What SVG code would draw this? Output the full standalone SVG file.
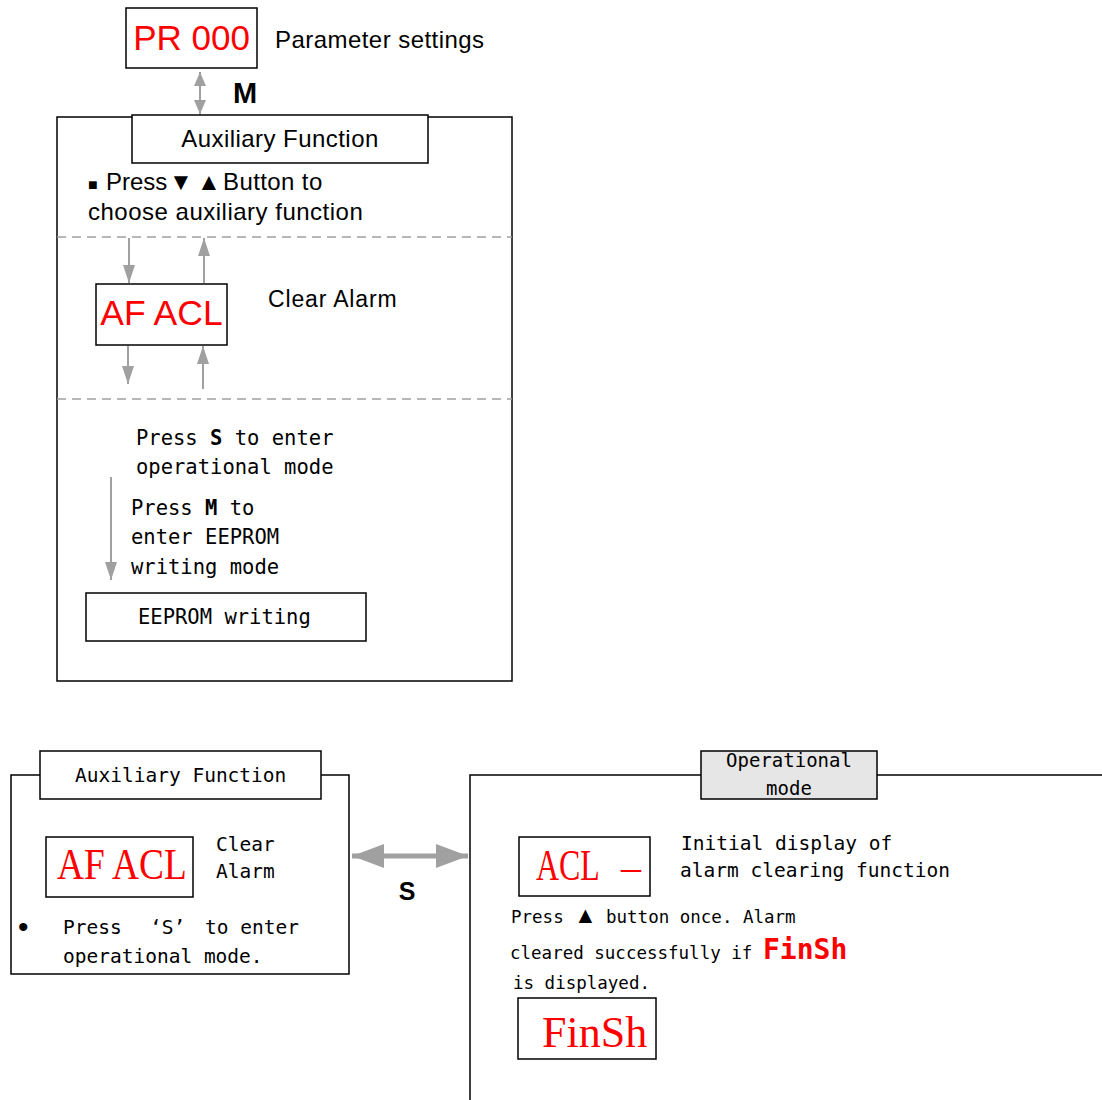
<svg xmlns="http://www.w3.org/2000/svg" width="1102" height="1100" viewBox="0 0 1102 1100">
<style>
.box{fill:#fff;stroke:#000;stroke-width:1.5}
.frame{fill:none;stroke:#000;stroke-width:1.5}
.dash{stroke:#a0a0a0;stroke-width:1.5;stroke-dasharray:9 6;fill:none}
.conn{stroke:#a0a0a0;stroke-width:2;fill:none}
.sans{font-family:"Liberation Sans",Arial,sans-serif;fill:#000}
.mono{font-family:"DejaVu Sans Mono","Liberation Mono",monospace;fill:#000}
.red{fill:#ff0000}
.serif{font-family:"Liberation Serif","Times New Roman",serif;fill:#ff0000}
</style>
<defs>
<marker id="ah" viewBox="0 0 18 12" refX="18" refY="6" markerWidth="18" markerHeight="12" markerUnits="userSpaceOnUse" orient="auto">
<path d="M0,0 L18,6 L0,12 z" fill="#a0a0a0"/>
</marker>
<marker id="ahs" viewBox="0 0 14 12" refX="14" refY="6" markerWidth="14" markerHeight="12" markerUnits="userSpaceOnUse" orient="auto">
<path d="M0,0 L14,6 L0,12 z" fill="#a0a0a0"/>
</marker>
<marker id="ahb" viewBox="0 0 32 24" refX="32" refY="12" markerWidth="32" markerHeight="24" markerUnits="userSpaceOnUse" orient="auto-start-reverse">
<path d="M0,0 L32,12 L0,24 z" fill="#a0a0a0"/>
</marker>
</defs>

<!-- frames -->
<g id="frame-top">
<rect class="frame" x="57" y="117" width="455" height="564"/>
<line class="dash" x1="57" y1="237" x2="512" y2="237"/>
<line class="dash" x1="57" y1="399" x2="512" y2="399"/>
</g>
<g id="frame-bottom-left">
<path class="frame" d="M40,775 H11 V974 H349 V775 H321"/>
</g>
<g id="frame-bottom-right">
<path class="frame" d="M470,1100 V775 H701 M877,775 H1102"/>
</g>

<!-- connectors -->
<g id="connectors">
<line class="conn" x1="200" y1="100" x2="200" y2="72" marker-end="url(#ahs)"/>
<line class="conn" x1="200" y1="86" x2="200" y2="114" marker-end="url(#ahs)"/>
<line class="conn" x1="129" y1="238" x2="129" y2="283" marker-end="url(#ah)"/>
<line class="conn" x1="204" y1="283" x2="204" y2="238" marker-end="url(#ah)"/>
<line class="conn" x1="128" y1="346" x2="128" y2="384" marker-end="url(#ah)"/>
<line class="conn" x1="203" y1="389" x2="203" y2="346" marker-end="url(#ah)"/>
<line class="conn" x1="111" y1="477" x2="111" y2="580" marker-end="url(#ah)"/>
<line x1="352" y1="856" x2="468" y2="856" stroke="#a0a0a0" stroke-width="5" marker-start="url(#ahb)" marker-end="url(#ahb)"/>
</g>

<!-- nodes -->
<g id="pr000">
<rect class="box" x="126" y="8" width="131" height="60"/>
<text class="sans red" x="191.5" y="50" font-size="35" text-anchor="middle">PR 000</text>
</g>
<g id="param-label">
<text class="sans" x="275" y="48" font-size="24" letter-spacing="0.45">Parameter settings</text>
</g>
<g id="m-label">
<text class="sans" x="245" y="103" font-size="29" font-weight="bold" text-anchor="middle">M</text>
</g>
<g id="aux-title">
<rect class="box" x="132" y="115" width="296" height="48"/>
<text class="sans" x="280" y="147" font-size="24" letter-spacing="0.45" text-anchor="middle">Auxiliary Function</text>
</g>
<g id="aux-instr">
<text class="sans" y="190" font-size="24"><tspan x="88" font-size="16">■</tspan><tspan x="106">Press</tspan><tspan x="169">▼</tspan><tspan x="197">▲</tspan><tspan x="223" letter-spacing="0.4">Button to</tspan></text>
<text class="sans" x="88" y="220" font-size="24" letter-spacing="0.5">choose auxiliary function</text>
</g>
<g id="af-acl-top">
<rect class="box" x="96" y="284" width="131" height="61"/>
<text class="sans red" x="161.5" y="325" font-size="35.5" text-anchor="middle">AF ACL</text>
</g>
<g id="clear-alarm-top">
<text class="sans" x="268" y="307" font-size="23" letter-spacing="0.85">Clear Alarm</text>
</g>
<g id="press-s-top">
<text class="mono" x="136" y="445" font-size="20.5">Press <tspan font-weight="bold">S</tspan> to enter</text>
<text class="mono" x="136" y="474" font-size="20.5">operational mode</text>
</g>
<g id="press-m">
<text class="mono" x="131" y="515" font-size="20.5">Press <tspan font-weight="bold">M</tspan> to</text>
<text class="mono" x="131" y="544" font-size="20.5">enter EEPROM</text>
<text class="mono" x="131" y="574" font-size="20.5">writing mode</text>
</g>
<g id="eeprom">
<rect class="box" x="86" y="593" width="280" height="48"/>
<text class="mono" x="138" y="624" font-size="20.5">EEPROM writing</text>
</g>

<g id="aux-title-bottom">
<rect class="box" x="40" y="751" width="281" height="48"/>
<text class="mono" x="75" y="782" font-size="19.5">Auxiliary Function</text>
</g>
<g id="af-acl-bottom">
<rect class="box" x="46" y="837" width="147" height="60"/>
<text class="serif" transform="translate(57,879) scale(0.83,1)" font-size="45">AF ACL</text>
</g>
<g id="clear-alarm-bottom">
<text class="mono" x="216" y="851" font-size="19.5">Clear</text>
<text class="mono" x="216" y="878" font-size="19.5">Alarm</text>
</g>
<g id="press-s-bottom">
<text class="sans" x="18" y="937" font-size="30">•</text>
<text class="mono" y="934" font-size="19.5"><tspan x="63">Press</tspan><tspan x="150">‘S’</tspan><tspan x="205">to enter</tspan></text>
<text class="mono" x="63" y="963" font-size="19.5">operational mode.</text>
</g>
<g id="s-label">
<text class="sans" x="407" y="900" font-size="25" font-weight="bold" text-anchor="middle">S</text>
</g>

<g id="op-title">
<rect x="701" y="751" width="176" height="48" fill="#e6e6e6" stroke="#000" stroke-width="1.5"/>
<text class="mono" x="789" y="767" font-size="19" text-anchor="middle">Operational</text>
<text class="mono" x="789" y="795" font-size="19" text-anchor="middle">mode</text>
</g>
<g id="acl-dash">
<rect class="box" x="519" y="837" width="131" height="59"/>
<text class="serif" transform="translate(536,880) scale(0.71,1)" font-size="45">ACL</text>
<text class="serif" x="621" y="880" font-size="40">–</text>
</g>
<g id="initial-display">
<text class="mono" x="681" y="850" font-size="19.5">Initial display of</text>
<text class="mono" x="680" y="877" font-size="19.5">alarm clearing function</text>
</g>
<g id="press-up">
<text class="mono" y="923" font-size="17.5"><tspan x="511">Press</tspan><tspan x="574" class="sans" font-size="23">▲</tspan><tspan x="606">button once. Alarm</tspan></text>
<text class="mono" x="510" y="959" font-size="17.5">cleared successfully if<tspan x="763" font-size="28" font-weight="bold" fill="#ff0000">FinSh</tspan></text>
<text class="mono" x="513" y="989" font-size="17.5">is displayed.</text>
</g>
<g id="finsh">
<rect class="box" x="518" y="998" width="138" height="61"/>
<text class="serif" x="542" y="1047" font-size="44">FinSh</text>
</g>
</svg>
